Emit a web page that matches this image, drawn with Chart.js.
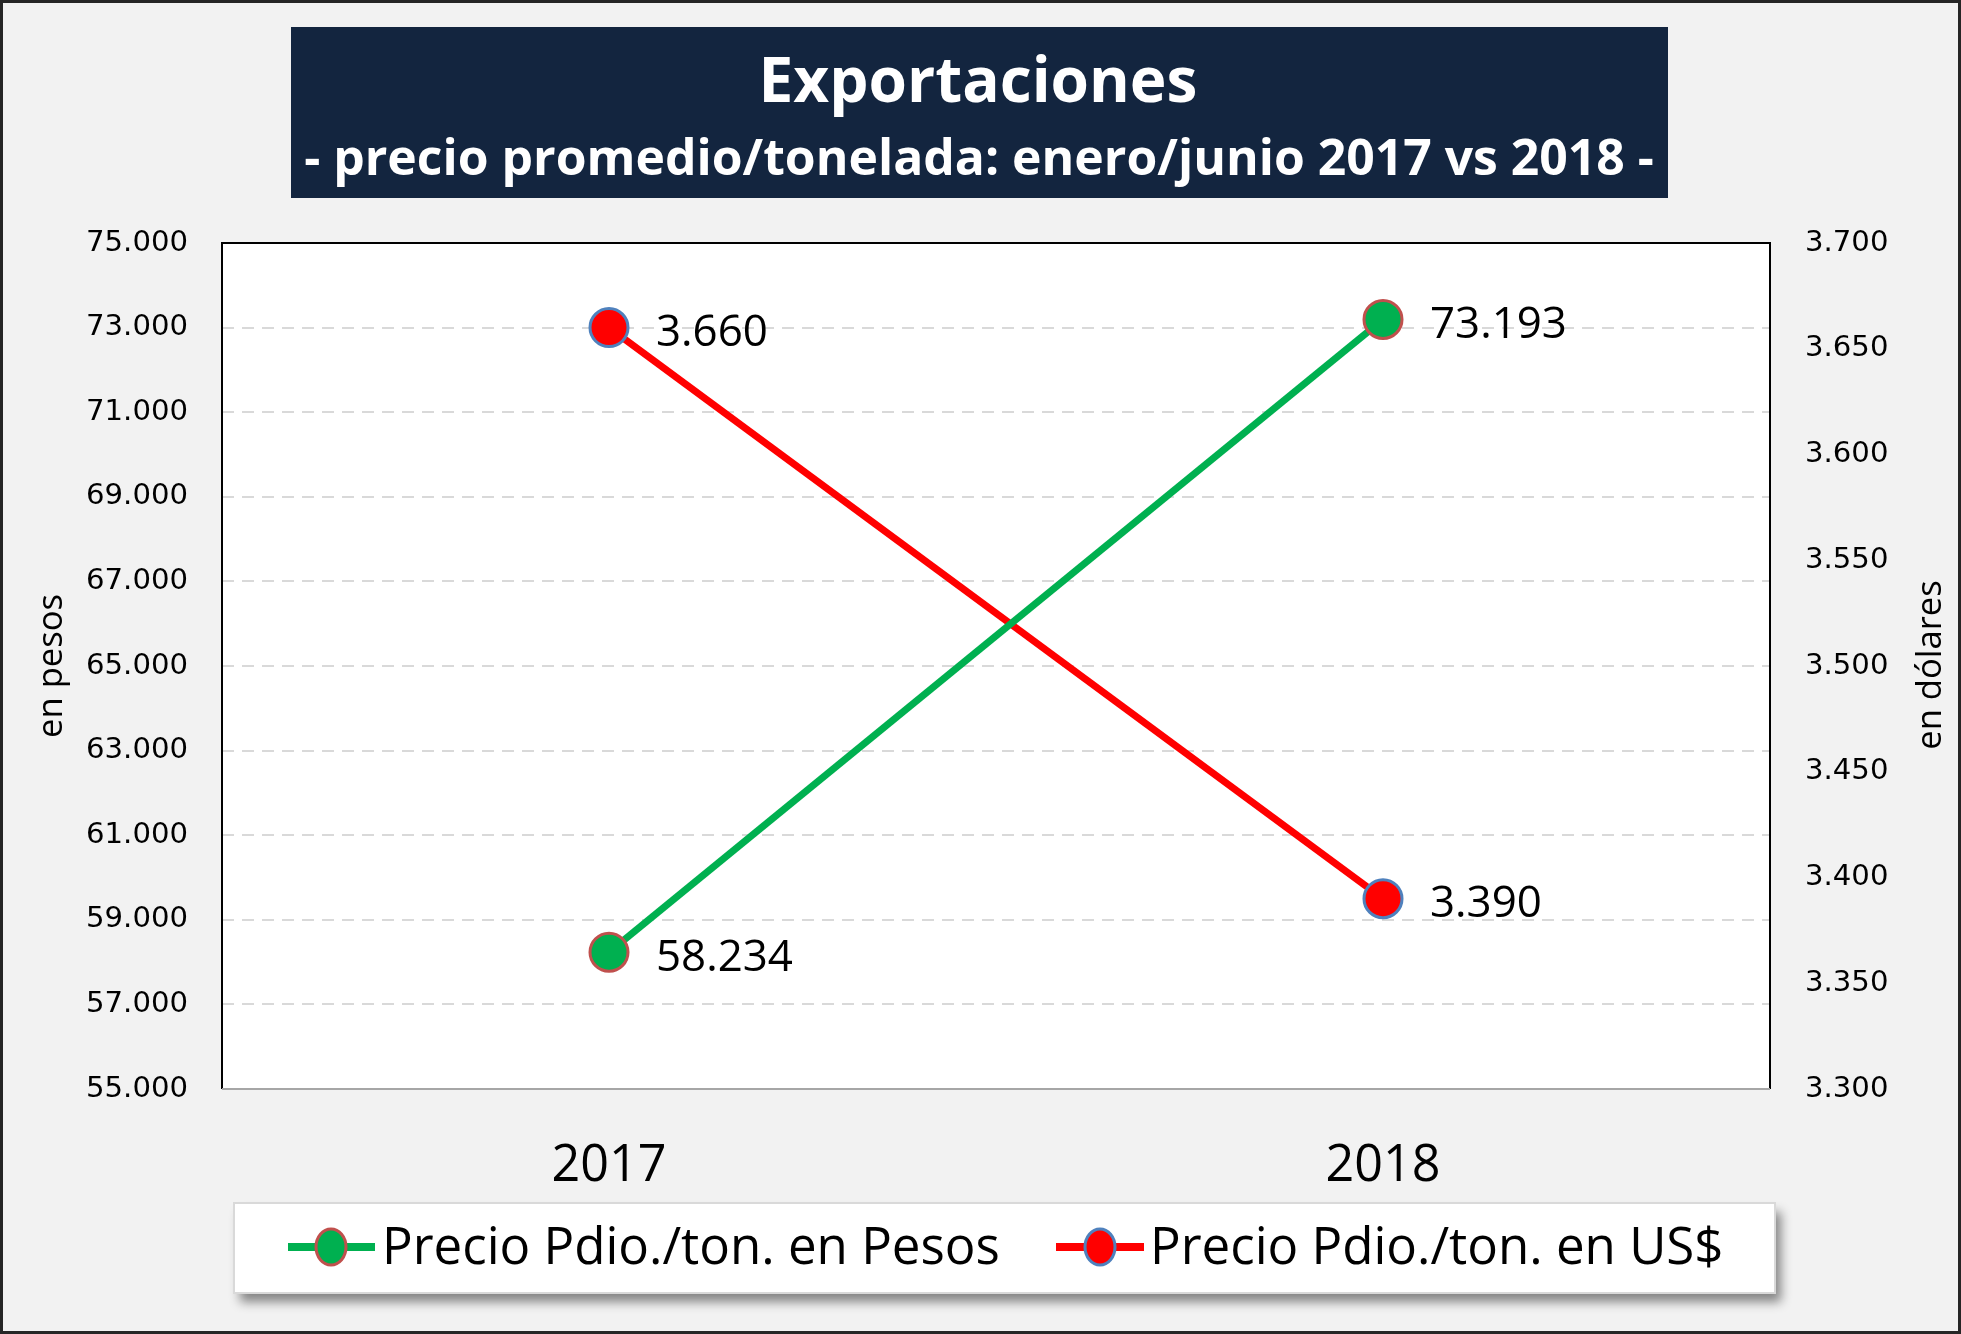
<!DOCTYPE html>
<html><head><meta charset="utf-8">
<script src="https://cdn.jsdelivr.net/npm/chart.js@4.4.1/dist/chart.umd.min.js"></script>
<style>html,body{margin:0;padding:0;background:#f2f2f2;}canvas{display:block;}</style>
</head><body><canvas id="c" width="1961" height="1334"></canvas>
<script>
const categories = ['2017', '2018'];
const pesosValues = [58234, 73193];
const usdValues = [3660, 3390];
const seriesNames = ['Precio Pdio./ton. en Pesos', 'Precio Pdio./ton. en US$'];
const titleText = 'Exportaciones';
const subtitleText = '- precio promedio/tonelada: enero/junio 2017 vs 2018 -';
const leftAxisTitle = 'en pesos';
const rightAxisTitle = 'en dólares';
const leftTicks = {min: 55000, max: 75000, step: 2000};
const rightTicks = {min: 3300, max: 3700, step: 50};

const CAL = '"Liberation Sans Narrow", "Open Sans", sans-serif';
const fmt = v => String(Math.round(v)).replace(/\B(?=(\d{3})+(?!\d))/g, '.');

function fitSize(ctx, text, weight, family, target) {
  ctx.save();
  ctx.font = weight + ' 100px ' + family;
  const w = ctx.measureText(text).width;
  ctx.restore();
  return 100 * target / w;
}

const canvas = document.getElementById('c');
const mctx = canvas.getContext('2d');
const xTickSize = fitSize(mctx, '2017', 'normal', CAL, 115);
const axisTitleSize = fitSize(mctx, leftAxisTitle, 'normal', CAL, 144);
const tickSize = fitSize(mctx, '75.000', 'normal', '"DejaVu Sans"', 102);

const decor = {
  id: 'decor',
  beforeDraw(chart) {
    const ctx = chart.ctx, a = chart.chartArea;
    ctx.save();
    ctx.fillStyle = '#f2f2f2';
    ctx.fillRect(0, 0, chart.width, chart.height);
    ctx.fillStyle = '#ffffff';
    ctx.fillRect(a.left, a.top, a.right - a.left, a.bottom - a.top);
    ctx.restore();
  },
  beforeDatasetsDraw(chart) {
    const ctx = chart.ctx, a = chart.chartArea;
    ctx.save();
    ctx.strokeStyle = '#000';
    ctx.lineWidth = 2;
    ctx.beginPath();
    ctx.moveTo(a.left, a.bottom);
    ctx.lineTo(a.left, a.top);
    ctx.lineTo(a.right, a.top);
    ctx.lineTo(a.right, a.bottom);
    ctx.stroke();
    ctx.strokeStyle = '#a6a6a6';
    ctx.beginPath();
    ctx.moveTo(a.left, a.bottom);
    ctx.lineTo(a.right, a.bottom);
    ctx.stroke();
    ctx.restore();
  },
  afterDraw(chart) {
    const ctx = chart.ctx;
    ctx.save();
    // title box
    ctx.fillStyle = '#13253f';
    ctx.fillRect(291, 27, 1377, 171);
    ctx.fillStyle = '#ffffff';
    ctx.textAlign = 'center';
    ctx.textBaseline = 'middle';
    let s = fitSize(ctx, titleText, 'bold', CAL, 439);
    ctx.font = 'bold ' + s + 'px ' + CAL;
    ctx.fillText(titleText, 978, 84);
    s = fitSize(ctx, subtitleText, 'bold', CAL, 1350);
    ctx.font = 'bold ' + s + 'px ' + CAL;
    ctx.fillText(subtitleText, 979, 161);

    // right axis title (reads bottom-to-top)
    ctx.fillStyle = '#000';
    ctx.font = axisTitleSize + 'px ' + CAL;
    ctx.translate(1931, 665);
    ctx.rotate(-Math.PI / 2);
    ctx.fillText(rightAxisTitle, 0, 0);
    ctx.setTransform(1, 0, 0, 1, 0, 0);

    // data labels
    const ls = fitSize(ctx, '58.234', 'normal', CAL, 137);
    ctx.font = ls + 'px ' + CAL;
    ctx.textAlign = 'left';
    chart.data.datasets.forEach((ds, i) => {
      const meta = chart.getDatasetMeta(i);
      meta.data.forEach((pt, j) => {
        ctx.fillText(fmt(ds.data[j]), pt.x + 47, pt.y + 6);
      });
    });

    // legend
    ctx.save();
    ctx.shadowColor = 'rgba(0,0,0,0.45)';
    ctx.shadowOffsetX = 6;
    ctx.shadowOffsetY = 9;
    ctx.shadowBlur = 10;
    ctx.fillStyle = '#ffffff';
    ctx.fillRect(234, 1203, 1541, 90);
    ctx.restore();
    ctx.strokeStyle = '#d9d9d9';
    ctx.lineWidth = 2;
    ctx.strokeRect(234, 1203, 1541, 90);
    const items = [{x0: 288, x1: 375, mx: 331, tx: 382}, {x0: 1056, x1: 1144, mx: 1100, tx: 1150}];
    const lgs = fitSize(ctx, seriesNames[0], 'normal', CAL, 618);
    chart.data.datasets.forEach((ds, i) => {
      const it = items[i], cy = 1247;
      ctx.strokeStyle = ds.borderColor;
      ctx.lineWidth = 8;
      ctx.beginPath(); ctx.moveTo(it.x0, cy); ctx.lineTo(it.x1, cy); ctx.stroke();
      ctx.fillStyle = ds.pointBackgroundColor;
      ctx.strokeStyle = ds.pointBorderColor;
      ctx.lineWidth = 3;
      ctx.beginPath(); ctx.ellipse(it.mx, cy, 15, 18, 0, 0, Math.PI * 2); ctx.fill(); ctx.stroke();
      ctx.fillStyle = '#000';
      ctx.font = lgs + 'px ' + CAL;
      ctx.textAlign = 'left';
      ctx.textBaseline = 'middle';
      ctx.fillText(ds.label, it.tx, cy + 2);
    });

    // outer border
    ctx.strokeStyle = '#262626';
    ctx.lineWidth = 3;
    ctx.strokeRect(1.5, 1.5, chart.width - 3, chart.height - 3);
    ctx.restore();
  }
};

new Chart(canvas, {
  type: 'line',
  data: {
    labels: categories,
    datasets: [
      {
        label: seriesNames[0], data: pesosValues, yAxisID: 'y',
        borderColor: '#00b050', borderWidth: 7,
        pointBackgroundColor: '#00b050', pointBorderColor: '#c0504d',
        pointBorderWidth: 3, pointRadius: 19, pointHoverRadius: 19, tension: 0
      },
      {
        label: seriesNames[1], data: usdValues, yAxisID: 'y1',
        borderColor: '#ff0000', borderWidth: 7,
        pointBackgroundColor: '#ff0000', pointBorderColor: '#4f81bd',
        pointBorderWidth: 3, pointRadius: 19, pointHoverRadius: 19, tension: 0
      }
    ]
  },
  options: {
    responsive: false,
    animation: false,
    events: [],
    layout: {padding: {top: 243, left: 0, right: 0, bottom: 0}},
    plugins: {legend: {display: false}, title: {display: false}, tooltip: {enabled: false}},
    scales: {
      x: {
        type: 'category', offset: true,
        grid: {display: false, drawTicks: false},
        border: {display: false},
        ticks: {color: '#000', font: {family: CAL, size: xTickSize}, padding: 48},
        afterFit: s => { s.height = 245; }
      },
      y: {
        position: 'left', min: leftTicks.min, max: leftTicks.max,
        ticks: {stepSize: leftTicks.step, callback: v => fmt(v), color: '#000',
                font: {family: '"DejaVu Sans"', size: tickSize}, padding: 34},
        grid: {color: '#d9d9d9', lineWidth: 2, drawTicks: false},
        border: {display: false, dash: [12, 8]},
        title: {display: true, text: leftAxisTitle, color: '#000',
                font: {family: CAL, size: axisTitleSize}, padding: {top: 31, bottom: 0}},
        afterFit: s => { s.width = 222; }
      },
      y1: {
        position: 'right', min: rightTicks.min, max: rightTicks.max,
        ticks: {stepSize: rightTicks.step, callback: v => fmt(v), color: '#000',
                font: {family: '"DejaVu Sans"', size: tickSize}, padding: 35},
        grid: {display: false, drawTicks: false},
        border: {display: false},
        afterFit: s => { s.width = 191; }
      }
    }
  },
  plugins: [decor]
});
</script>
</body></html>
